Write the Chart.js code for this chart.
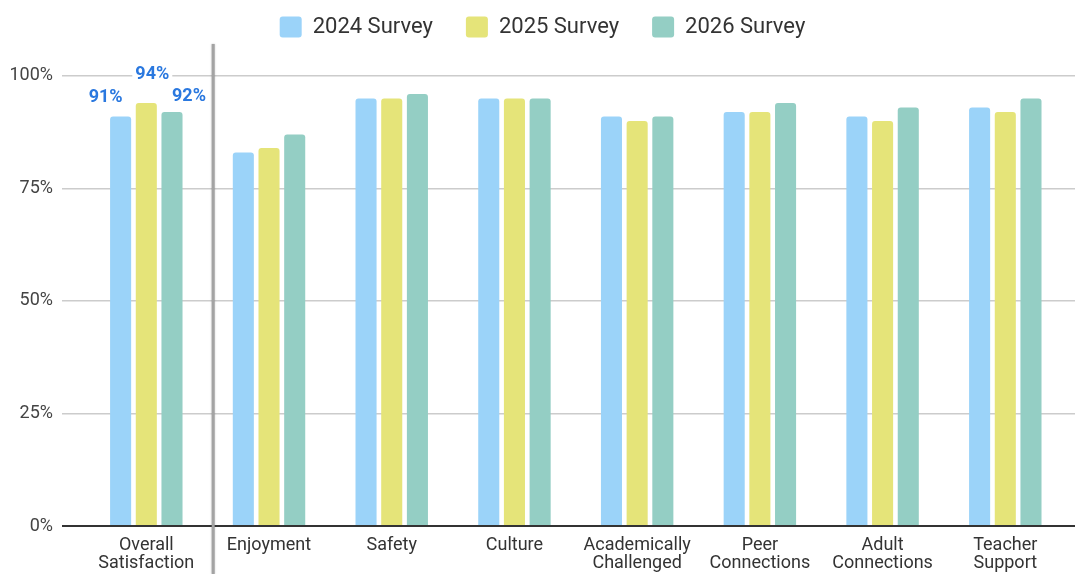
<!DOCTYPE html>
<html>
<head>
<meta charset="utf-8">
<script src="https://cdn.jsdelivr.net/npm/chart.js@4.4.1/dist/chart.umd.min.js"></script>
<style>
  html, body { margin: 0; padding: 0; background: #fff; }
  #wrap { width: 1076px; height: 574px; }
</style>
</head>
<body>
<div id="wrap"><canvas id="c" width="1076" height="574"></canvas></div>
<script>
// Survey categories and results (percent of positive responses)
const categories = [
  ['Overall', 'Satisfaction'],
  'Enjoyment',
  'Safety',
  'Culture',
  ['Academically', 'Challenged'],
  ['Peer', 'Connections'],
  ['Adult', 'Connections'],
  ['Teacher', 'Support']
];
const surveyNames = ['2024 Survey', '2025 Survey', '2026 Survey'];
const survey2024 = [91, 83, 95, 95, 91, 92, 91, 93];
const survey2025 = [94, 84, 95, 95, 90, 92, 90, 92];
const survey2026 = [92, 87, 96, 95, 91, 94, 93, 95];
const yTicks = [0, 25, 50, 75, 100];

const colors = ['#9bd3f9', '#e5e479', '#94cec4'];
const seriesValues = [survey2024, survey2025, survey2026];

// Only the headline category carries value labels; offsets keep them apart
const labelOffsets = [[-15, -19], [6, -28], [17, -15]];

const datasets = seriesValues.map((vals, s) => ({
  label: surveyNames[s],
  data: vals.map((v, i) => ({ x: i, y: v })),
  backgroundColor: colors[s],
  borderColor: colors[s],
  borderWidth: 0,
  borderRadius: { topLeft: 3, topRight: 3, bottomLeft: 0, bottomRight: 0 },
  borderSkipped: 'bottom',
  categoryPercentage: 0.628,
  barPercentage: 0.82
}));

// Vertical divider separating the overall score from the sub-scores
const dividerPlugin = {
  id: 'divider',
  afterDatasetsDraw(chart) {
    const ctx = chart.ctx;
    const x = chart.scales.x.getPixelForValue(0.545);
    ctx.save();
    ctx.strokeStyle = '#a3a3a3';
    ctx.lineWidth = 3;
    ctx.shadowColor = 'rgba(0,0,0,0.25)';
    ctx.shadowBlur = 2;
    ctx.beginPath();
    ctx.moveTo(x, 44);
    ctx.lineTo(x, chart.height);
    ctx.stroke();
    ctx.restore();
  }
};

// Value labels above the overall-satisfaction bars
const valueLabelPlugin = {
  id: 'valueLabels',
  afterDatasetsDraw(chart) {
    const ctx = chart.ctx;
    ctx.save();
    ctx.font = 'bold 18px Roboto';
    ctx.textAlign = 'center';
    ctx.textBaseline = 'middle';
    chart.data.datasets.forEach((ds, s) => {
      const bar = chart.getDatasetMeta(s).data[0];
      const [dx, dy] = labelOffsets[s];
      const text = seriesValues[s][0] + '%';
      const x = bar.x + dx, y = bar.y + dy;
      const w = ctx.measureText(text).width;
      ctx.fillStyle = '#ffffff';
      ctx.fillRect(x - w / 2 - 3, y - 8, w + 6, 16);
      ctx.fillStyle = '#2a78df';
      ctx.fillText(text, x, y);
    });
    ctx.restore();
  }
};

new Chart(document.getElementById('c'), {
  type: 'bar',
  data: { datasets },
  options: {
    responsive: false,
    animation: false,
    layout: { padding: { top: -17, right: 1, left: 10, bottom: 0 } },
    plugins: {
      legend: {
        position: 'top',
        labels: {
          font: { family: 'Roboto', size: 22 },
          color: '#333',
          boxWidth: 22,
          boxHeight: 21,
          padding: 33,
          useBorderRadius: true,
          borderRadius: 3
        }
      },
      tooltip: { enabled: false }
    },
    scales: {
      x: {
        type: 'linear',
        min: -0.687,
        max: 7.568,
        offset: false,
        grid: { display: false },
        border: { display: false },
        afterBuildTicks(scale) {
          scale.ticks = categories.map((_, i) => ({ value: i }));
        },
        afterFit(scale) { scale.height = 48; },
        ticks: {
          autoSkip: false,
          maxRotation: 0,
          padding: 2,
          font: { family: 'Roboto', size: 18, lineHeight: 1.0 },
          color: '#333',
          callback: (v) => categories[v]
        }
      },
      y: {
        min: 0,
        max: 106.2,
        afterBuildTicks(scale) {
          scale.ticks = yTicks.map(v => ({ value: v }));
        },
        afterFit(scale) { scale.width = 52; },
        grid: {
          drawTicks: false,
          color: (c) => c.tick && c.tick.value === 0 ? '#333' : '#cccccc',
          lineWidth: (c) => c.tick && c.tick.value === 0 ? 2 : 1.5
        },
        border: { display: false },
        ticks: {
          padding: 9,
          font: { family: 'Roboto', size: 18 },
          color: '#444',
          callback: (v) => v + '%'
        }
      }
    }
  },
  plugins: [dividerPlugin, valueLabelPlugin]
});
</script>
</body>
</html>
